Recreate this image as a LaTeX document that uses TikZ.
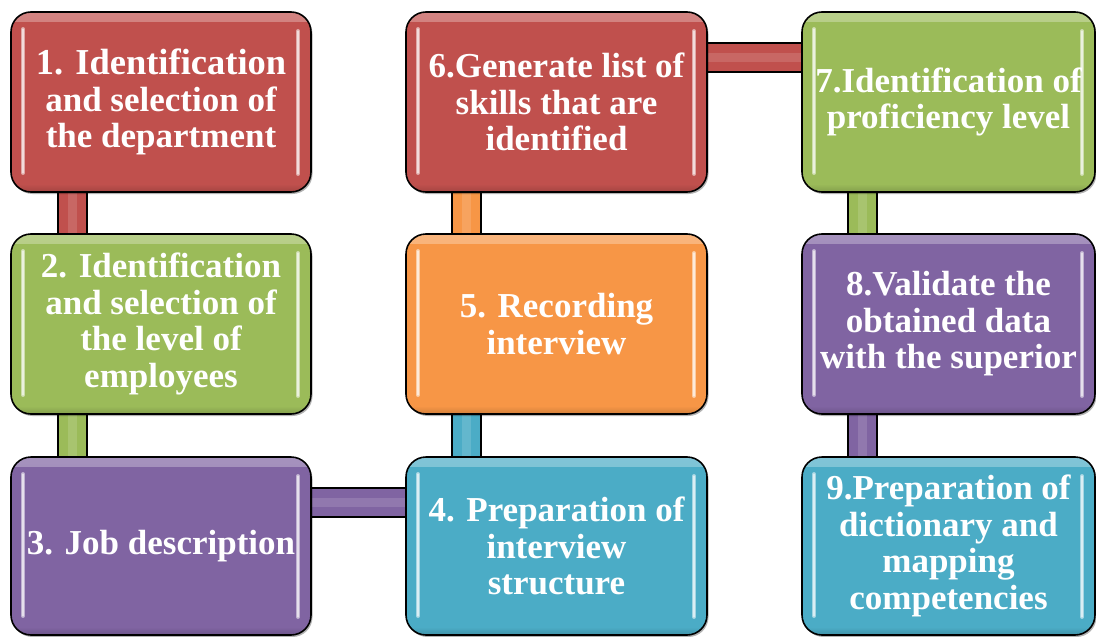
\documentclass[tikz,border=0pt]{standalone}
\usepackage{fontspec}
\newfontfamily\stepfont{Liberation Serif}
\usetikzlibrary{shadows}

\definecolor{cRed}{HTML}{C0504D}
\definecolor{cGreen}{HTML}{9BBB59}
\definecolor{cPurple}{HTML}{8064A2}
\definecolor{cOrange}{HTML}{F79646}
\definecolor{cTeal}{HTML}{4BACC6}

\pgfdeclarelayer{backdrop}
\pgfdeclarelayer{bars}
\pgfsetlayers{backdrop,bars,main}

\tikzset{
  stepbox/.style={
    draw=black, line width=1.6pt, rounded corners=20pt, fill=#1,
    text=white, align=center, inner sep=0pt,
    font=\stepfont\bfseries\fontsize{35}{36.5}\selectfont,
    drop shadow={shadow xshift=1.5pt, shadow yshift=-2pt, opacity=0.3, fill=black},
    path picture={
      \shade[sharp corners, top color=#1!70!white, bottom color=#1]
        ([yshift=1pt]path picture bounding box.north west) rectangle
        ([yshift=-9pt]path picture bounding box.north east);
      \shade[sharp corners, top color=#1, bottom color=#1!85!black]
        ([yshift=8pt]path picture bounding box.south west) rectangle
        (path picture bounding box.south east);
      \draw[line width=4pt, draw=#1!50!white, line cap=round]
        ([xshift=12pt,yshift=-17pt]path picture bounding box.north west) --
        ([xshift=12pt,yshift=19pt]path picture bounding box.south west);
      \draw[line width=4pt, draw=#1!50!white, line cap=round]
        ([xshift=-13pt,yshift=-19pt]path picture bounding box.north east) --
        ([xshift=-13pt,yshift=18pt]path picture bounding box.south east);
      \draw[line width=1.2pt, draw=white!80!#1, line cap=round]
        ([xshift=12pt,yshift=-17pt]path picture bounding box.north west) --
        ([xshift=12pt,yshift=19pt]path picture bounding box.south west);
      \draw[line width=1.2pt, draw=white!80!#1, line cap=round]
        ([xshift=-13pt,yshift=-19pt]path picture bounding box.north east) --
        ([xshift=-13pt,yshift=18pt]path picture bounding box.south east);
    }},
  colA/.style={minimum width=300pt},
  colB/.style={minimum width=301pt},
  colC/.style={minimum width=293pt},
  rowTop/.style={minimum height=180pt},
  rowLow/.style={minimum height=178pt},
  linkbar/.style={
    line width=27pt, draw=#1,
    preaction={draw=black, line width=31pt},
    postaction={draw=#1!70!white, line width=9pt, opacity=0.45}},
}

\begin{document}
\begin{tikzpicture}[x=1pt, y=-1pt]
  \begin{pgfonlayer}{backdrop}
    \fill[white] (0,0) rectangle (1096,637);
  \end{pgfonlayer}
  \useasboundingbox (0,0) rectangle (1096,637);

  % first column
  \node[stepbox=cRed, colA, rowTop] (b1) at (161,102)
    {\fontsize{36.5}{38}\selectfont 1. Identification\\and selection of\\the department};
  \node[stepbox=cGreen, colA, rowTop] (b2) at (161,324)
    {2. Identification\\and selection of\\the level of\\employees};
  \node[stepbox=cPurple, colA, rowLow] (b3) at (161,546)
    {3. Job description};

  % second column
  \node[stepbox=cRed, colB, rowTop] (b6) at (556.5,102)
    {6.Generate list of\\skills that are\\identified};
  \node[stepbox=cOrange, colB, rowTop] (b5) at (556.5,324)
    {5. Recording\\interview};
  \node[stepbox=cTeal, colB, rowLow] (b4) at (556.5,546)
    {4. Preparation of\\interview\\structure};

  % third column
  \node[stepbox=cGreen, colC, rowTop] (b7) at (948.5,102)
    {7.Identification of\\proficiency level};
  \node[stepbox=cPurple, colC, rowTop] (b8) at (948.5,324)
    {8.Validate the\\obtained data\\with the superior};
  \node[stepbox=cTeal, colC, rowLow] (b9) at (948.5,546)
    {9.Preparation of\\dictionary and\\mapping\\competencies};

  % connecting bars, behind the boxes
  \begin{pgfonlayer}{bars}
    \draw[linkbar=cRed]    ([xshift=62pt]b1.south west) -- ([xshift=62pt]b2.north west);
    \draw[linkbar=cGreen]  ([xshift=62pt]b2.south west) -- ([xshift=62pt]b3.north west);
    \draw[linkbar=cPurple] ([yshift=44pt]b3.east) -- ([yshift=44pt]b4.west);
    \draw[linkbar=cTeal]   ([xshift=61pt]b4.north west) -- ([xshift=61pt]b5.south west);
    \draw[linkbar=cOrange] ([xshift=61pt]b5.north west) -- ([xshift=61pt]b6.south west);
    \draw[linkbar=cRed]    ([yshift=45pt]b6.east) -- ([yshift=45pt]b7.west);
    \draw[linkbar=cGreen]  ([xshift=61.5pt]b7.south west) -- ([xshift=61.5pt]b8.north west);
    \draw[linkbar=cPurple] ([xshift=61.5pt]b8.south west) -- ([xshift=61.5pt]b9.north west);
  \end{pgfonlayer}
\end{tikzpicture}
\end{document}
